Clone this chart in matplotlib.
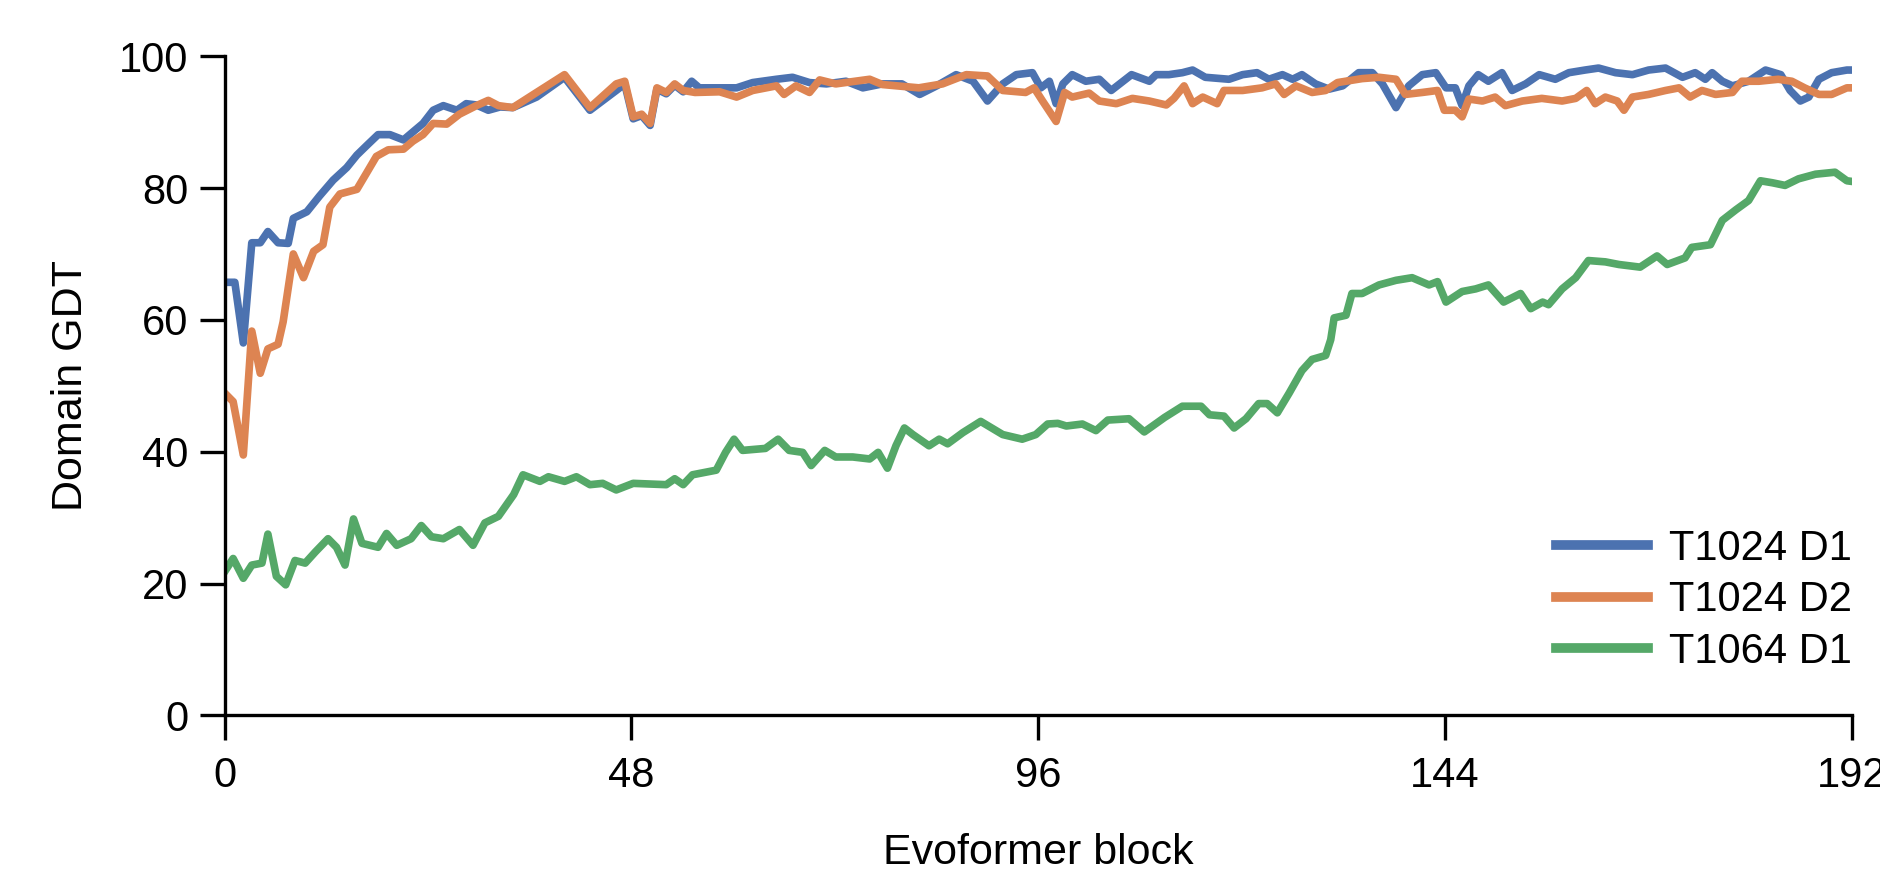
import matplotlib
matplotlib.use('Agg')
import matplotlib.pyplot as plt

# Domain GDT per Evoformer block
d1_x = [0, 1.2, 2.2, 3.2, 4.2, 5.1, 6.3, 7.5, 8.1, 9.7, 11.2, 12.8, 14.4, 15.6, 16.8, 18.1, 19.5, 21.1,
        22.2, 23.4, 24.6, 25.8, 27.4, 28.5, 29.7, 31.1, 32.5, 34.0, 36.8, 40.1, 43.1, 46.2, 47.2, 48.2,
        49.2, 50.2, 51.0, 52.1, 53.1, 54.1, 55.1, 56.0, 58.4, 60.4, 62.3, 65.1, 67.0, 69.0, 71.0, 73.3,
        75.3, 77.6, 79.9, 82.0, 84.0, 86.3, 88.3, 90.0, 91.8, 93.4, 95.3, 96.3, 97.3, 98.1, 98.9, 100.0,
        101.6, 103.2, 104.6, 107.0, 109.1, 109.9, 111.4, 113.0, 114.2, 115.7, 118.5, 120.1, 121.8, 123.2,
        124.8, 126.0, 127.1, 128.7, 130.3, 131.9, 133.8, 135.4, 136.6, 138.2, 139.7, 141.3, 142.9, 144.1,
        145.2, 146.0, 146.8, 147.9, 149.1, 150.7, 151.9, 153.5, 155.1, 157.0, 158.6, 160.5, 162.1, 164.1,
        166.1, 168.0, 170.0, 172.0, 173.5, 174.7, 175.5, 176.7, 177.9, 179.8, 181.8, 183.6, 184.7, 185.9,
        186.9, 188.1, 189.6, 191.4, 192]
d1_y = [65.7, 65.7, 56.5, 71.7, 71.7, 73.4, 71.7, 71.6, 75.4, 76.4, 78.8, 81.2, 83.1, 85.0, 86.5, 88.1, 88.1, 87.3,
        88.5, 89.8, 91.8, 92.5, 91.8, 92.8, 92.6, 91.8, 92.3, 92.2, 93.8, 96.8, 91.8, 94.8, 95.8, 90.5,
        91.0, 89.5, 95.0, 94.3, 95.6, 94.6, 96.2, 95.2, 95.2, 95.2, 96.0, 96.5, 96.8, 96.0, 95.8, 96.2,
        95.2, 95.8, 95.8, 94.2, 95.5, 97.2, 96.2, 93.2, 95.8, 97.2, 97.5, 95.2, 96.2, 92.8, 95.8, 97.2,
        96.2, 96.5, 94.8, 97.2, 96.2, 97.2, 97.2, 97.5, 97.9, 96.8, 96.5, 97.2, 97.5, 96.5,
        97.2, 96.5, 97.2, 95.8, 95.0, 95.5, 97.5, 97.5, 95.8, 92.2, 95.5, 97.2, 97.5, 95.2,
        95.2, 92.5, 95.5, 97.2, 96.2, 97.5, 94.8, 95.8, 97.2, 96.5, 97.5, 97.9, 98.2, 97.5,
        97.2, 97.9, 98.2, 96.8, 97.5, 96.5, 97.5, 96.2, 95.5, 96.2, 97.9, 97.2, 94.8, 93.2,
        93.8, 96.5, 97.5, 97.9, 97.9]

d2_x = [0, 1.0, 2.2, 3.2, 4.2, 5.1, 6.3, 6.9, 8.1, 9.3, 10.5, 11.6, 12.4, 13.6, 15.6, 16.8, 17.9, 19.3,
        21.1, 22.2, 23.4, 24.6, 26.2, 27.7, 29.7, 31.1, 32.3, 34.0, 36.8, 40.1, 43.1, 46.2, 47.2, 48.2,
        49.2, 50.2, 51.0, 52.1, 53.1, 54.1, 55.5, 58.4, 60.4, 62.3, 65.1, 66.0, 67.4, 69.0, 70.2, 72.1,
        76.1, 77.6, 81.9, 84.7, 87.5, 90.0, 91.8, 94.5, 95.5, 96.5, 98.1, 99.1, 100.0, 102.0, 103.2,
        105.2, 107.1, 109.1, 111.1, 112.0, 113.2, 114.2, 115.4, 117.1, 117.9, 120.1, 122.4, 124.0, 125.0,
        126.4, 128.3, 129.9, 131.3, 134.2, 136.2, 138.2, 139.3, 141.3, 143.1, 143.9, 145.2, 146.0, 146.8,
        148.4, 149.9, 151.1, 153.1, 155.4, 157.8, 159.4, 160.7, 161.7, 162.9, 164.3, 165.1, 166.1, 168.0,
        170.0, 171.6, 172.9, 174.3, 175.9, 177.9, 179.0, 181.0, 183.3, 184.9, 186.4, 188.1, 189.6, 191.4, 192]
d2_y = [48.9, 47.6, 39.5, 58.3, 51.9, 55.6, 56.3, 59.7, 70.0, 66.4, 70.4, 71.4, 77.1, 79.1, 79.8, 82.4, 84.8, 85.8,
        85.9, 87.1, 88.1, 89.8, 89.7, 91.2, 92.5, 93.3, 92.5, 92.2, 94.5, 97.2, 92.2, 95.8, 96.2, 90.8,
        91.2, 89.8, 95.2, 94.5, 95.8, 94.8, 94.5, 94.6, 93.8, 94.8, 95.5, 94.2, 95.5, 94.5, 96.4, 95.8,
        96.5, 95.7, 95.2, 95.8, 97.2, 97.0, 94.8, 94.5, 95.2, 93.2, 90.1, 94.5, 93.8, 94.4, 93.2,
        92.8, 93.6, 93.2, 92.6, 93.6, 95.5, 92.8, 93.8, 92.8, 94.8, 94.8, 95.2, 95.8, 94.2,
        95.5, 94.5, 94.8, 96.0, 96.6, 96.8, 96.5, 94.2, 94.5, 94.8, 91.8, 91.8, 90.8, 93.5,
        93.2, 93.8, 92.5, 93.2, 93.6, 93.2, 93.6, 94.8, 92.8, 93.8, 93.2, 91.8, 93.8, 94.2,
        94.8, 95.2, 93.8, 94.8, 94.2, 94.5, 96.2, 96.2, 96.5, 96.2, 95.2, 94.2, 94.2, 95.2, 95.2]

t1064_x = [0, 1.0, 2.2, 3.2, 4.4, 5.1, 6.1, 7.2, 8.3, 9.5, 10.7, 12.2, 13.2, 14.2, 15.2, 16.2, 18.1, 19.1,
           20.3, 22.0, 23.2, 24.4, 25.8, 27.7, 29.3, 30.7, 32.3, 34.1, 35.2, 37.2, 38.2, 40.1, 41.5, 43.1,
           44.6, 46.2, 48.2, 52.1, 53.1, 54.1, 55.2, 58.0, 59.1, 60.1, 61.1, 63.8, 65.3, 66.6, 68.2, 69.2,
           70.8, 72.1, 74.1, 76.1, 77.1, 78.2, 79.2, 80.2, 81.2, 83.1, 84.3, 85.3, 87.1, 89.2, 91.8, 94.1,
           95.7, 97.1, 98.3, 99.3, 101.2, 102.8, 104.2, 106.7, 108.5, 110.9, 113.0, 115.2, 116.2, 117.9,
           119.1, 120.5, 122.0, 123.0, 124.2, 125.6, 127.1, 128.3, 129.9, 130.5, 130.9, 132.3, 133.0, 134.2,
           136.2, 138.2, 140.1, 142.1, 143.1, 144.1, 146.0, 147.6, 149.1, 150.9, 152.9, 154.1, 155.5, 156.2,
           157.8, 159.4, 160.9, 162.9, 164.5, 167.0, 169.0, 170.2, 172.3, 173.1, 175.3, 176.7, 178.3, 179.8,
           181.2, 182.6, 184.1, 185.7, 187.7, 190.0, 191.4, 192]
t1064_y = [21.8, 23.8, 20.8, 22.8, 23.1, 27.5, 21.1, 19.8, 23.5, 23.1, 24.8, 26.8, 25.5, 22.8, 29.8, 26.1, 25.5, 27.6,
           25.8, 26.8, 28.8, 27.1, 26.8, 28.2, 25.8, 29.2, 30.2, 33.5, 36.5, 35.5, 36.2, 35.5, 36.2, 35.0,
           35.2, 34.2, 35.2, 35.0, 35.9, 35.0, 36.5, 37.2, 39.9, 41.9, 40.2, 40.5, 41.9, 40.2, 39.9, 37.9,
           40.2, 39.2, 39.2, 38.9, 39.9, 37.5, 40.9, 43.6, 42.6, 40.9, 41.9, 41.2, 42.9, 44.6, 42.6, 41.9,
           42.6, 44.2, 44.3, 43.9, 44.2, 43.2, 44.8, 45.0, 43.0, 45.2, 46.9, 46.9, 45.6, 45.4,
           43.6, 45.0, 47.3, 47.3, 45.9, 48.9, 52.3, 54.0, 54.6, 57.0, 60.3, 60.7, 64.0, 64.0,
           65.3, 66.0, 66.4, 65.3, 65.8, 62.7, 64.3, 64.7, 65.3, 62.7, 64.0, 61.7, 62.7, 62.3,
           64.7, 66.4, 69.0, 68.8, 68.4, 68.0, 69.7, 68.4, 69.4, 71.0, 71.4, 75.1, 76.7, 78.1,
           81.1, 80.8, 80.4, 81.4, 82.1, 82.4, 81.1, 81.0]

labels = ['T1024 D1', 'T1024 D2', 'T1064 D1']
colors = ['#4C72B0', '#DD8452', '#55A868']

plt.rcParams['font.family'] = ['Liberation Sans', 'DejaVu Sans']

fig = plt.figure(figsize=(18.8, 8.92), dpi=100)
ax = fig.add_axes([0.1195, 0.198, 0.8656, 0.739])

ax.plot(d1_x, d1_y, color=colors[0], lw=5.5, label=labels[0])
ax.plot(d2_x, d2_y, color=colors[1], lw=5.5, label=labels[1])
ax.plot(t1064_x, t1064_y, color=colors[2], lw=5.5, label=labels[2])

ax.set_xlim(0, 192)
ax.set_ylim(0, 100)
ax.set_xticks([0, 48, 96, 144, 192])
ax.set_yticks([0, 20, 40, 60, 80, 100])
ax.tick_params(labelsize=30, length=18, width=2.4, pad=8)
for s in ['top', 'right']:
    ax.spines[s].set_visible(False)
for s in ['left', 'bottom']:
    ax.spines[s].set_linewidth(2.4)
ax.xaxis.set_tick_params(pad=11)

ax.set_xlabel('Evoformer block', fontsize=31, labelpad=27)
ax.set_ylabel('Domain GDT', fontsize=31, labelpad=20)

leg = ax.legend(loc='lower right', bbox_to_anchor=(1.0, 0.066), frameon=False, fontsize=30,
                handlelength=2.2, handletextpad=0.5, labelspacing=0.28, borderpad=0, borderaxespad=0)
for h in leg.get_lines():
    h.set_linewidth(7)

fig.savefig('out.png', dpi=100)
